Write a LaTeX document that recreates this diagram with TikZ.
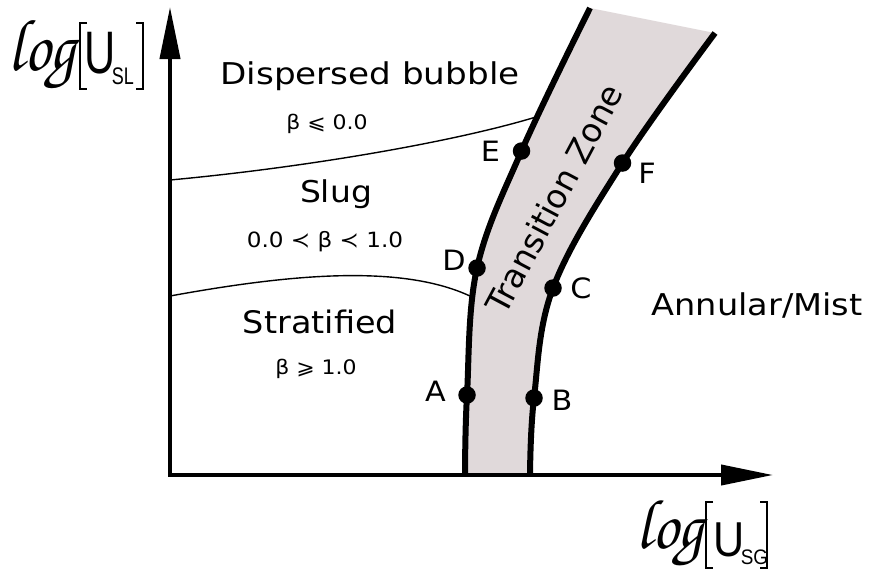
\documentclass[tikz,border=0pt]{standalone}
\usepackage{fontspec}
\makeatletter
\input{t1enc.def}
\makeatother
\newfontfamily\dv{DejaVu Sans}
\newfontfamily\ar{Liberation Sans}
\usetikzlibrary{arrows.meta}
\definecolor{zonefill}{RGB}{224,217,218}
\newcommand{\chanc}{\fontencoding{T1}\fontfamily{pzc}\fontseries{mb}\fontshape{it}\selectfont}
\begin{document}
\begin{tikzpicture}[x=1pt,y=-1pt,
  dot/.style={circle,fill=black,inner sep=0pt,minimum size=17.5pt},
  ptlbl/.style={inner sep=0pt,font=\dv\fontsize{28}{28}\selectfont},
  txtbig/.style={inner sep=0pt,anchor=base,font=\dv\fontsize{30}{30}\selectfont},
  txtsmall/.style={inner sep=0pt,anchor=base,font=\dv\fontsize{20}{20}\selectfont},
  zoneline/.style={line width=6pt},
  bnd/.style={line width=1.4pt},
  brk/.style={line width=1.3pt},
  loglbl/.style={inner sep=0pt,font=\chanc\fontsize{64}{64}\selectfont},
  axis/.style={line width=4pt,line join=miter,{Triangle[length=52pt,width=20pt]}-{Triangle[length=52pt,width=20pt]}}
]
\useasboundingbox (0,0) rectangle (869,574);
% coordinates
\coordinate (orig) at (170,475);
\coordinate (ytip) at (170,7);
\coordinate (xtip) at (773,475);
\coordinate (L0) at (465,476);
\coordinate (cA) at (467,395);
\coordinate (cD) at (477,268);
\coordinate (cE) at (521.5,151);
\coordinate (Ltop) at (590,8);
\coordinate (R0) at (530,476);
\coordinate (cB) at (534,398);
\coordinate (cC) at (553,288);
\coordinate (cF) at (622.5,163);
\coordinate (Rtop) at (715,33);
\coordinate (b1s) at (170,180);
\coordinate (b1e) at (536,117);
\coordinate (b2s) at (170,296);
\coordinate (b2e) at (472,297);
% transition zone
\fill[zonefill] plot[smooth,tension=0.6] coordinates {(L0) (cA) (cD) (cE) (Ltop)}
  -- plot[smooth,tension=0.6] coordinates {(Rtop) (cF) (cC) (cB) (R0)} -- cycle;
\draw[zoneline] plot[smooth,tension=0.6] coordinates {(L0) (cA) (cD) (cE) (Ltop)};
\draw[zoneline] plot[smooth,tension=0.6] coordinates {(R0) (cB) (cC) (cF) (Rtop)};
% boundaries
\draw[bnd] (b1s) .. controls (300,168) and (450,143) .. (b1e);
\draw[bnd] (b2s) .. controls (280,276) and (400,262) .. (b2e);
% axes
\draw[axis] (ytip) -- (orig) -- (xtip);
% dots
\node[dot] (pA) at (cA) {};
\node[dot] (pB) at (cB) {};
\node[dot] (pC) at (cC) {};
\node[dot] (pD) at (cD) {};
\node[dot] (pE) at (cE) {};
\node[dot] (pF) at (cF) {};
\node[ptlbl] (lA) at (435.5,391.5) {\scalebox{1.08}[1]{A}};
\node[ptlbl] (lB) at (562,400) {\scalebox{1.08}[1]{B}};
\node[ptlbl] (lC) at (581,288) {\scalebox{1.08}[1]{C}};
\node[ptlbl] (lD) at (454,260) {\scalebox{1.08}[1]{D}};
\node[ptlbl] (lE) at (490.5,151.7) {\scalebox{1.08}[1]{E}};
\node[ptlbl] (lF) at (647,173) {\scalebox{1.08}[1]{F}};
% region texts
\node[txtbig] (tdisp) at (370,84) {\scalebox{1.14}[1]{Dispersed bubble}};
\node[txtsmall] (tb1) at (327,129) {\scalebox{1.1}[1]{β ⩽ 0.0}};
\node[txtbig] (tslug) at (336,202) {\scalebox{1.1}[1]{Slug}};
\node[txtsmall,font=\dv\fontsize{21}{21}\selectfont] (tb2) at (325,247) {\scalebox{1.1}[1]{0.0 ≺ β ≺ 1.0}};
\node[txtbig,font=\dv\fontsize{31}{31}\selectfont] (tstrat) at (320,333) {\scalebox{1.08}[1]{Stratified}};
\node[txtsmall] (tb3) at (316,374) {\scalebox{1.1}[1]{β ⩾ 1.0}};
\node[txtbig] (tann) at (757,315) {\scalebox{1.12}[1]{Annular/Mist}};
\node[inner sep=0pt,font=\dv\fontsize{33}{33}\selectfont,rotate=62] (tzone) at (554,199) {Transition Zone};
% y axis label
\node[loglbl] (ylog) at (42,56) {\scalebox{1}[1.15]{log}};
\draw[brk] (87,23) -- (80,23) -- (80,89) -- (87,89);
\draw[brk] (136,23) -- (143,23) -- (143,89) -- (136,89);
\node[inner sep=0pt,font=\ar\fontsize{60}{60}\selectfont] (yU) at (100.5,53.5) {\scalebox{0.72}[1]{U}};
\node[inner sep=0pt,font=\ar\fontsize{24}{24}\selectfont] (ySL) at (123,76.5) {\scalebox{0.75}[1]{SL}};
% x axis label
\node[loglbl] (xlog) at (670,534) {\scalebox{1}[1.1]{log}};
\draw[brk] (713,502) -- (706,502) -- (706,568) -- (713,568);
\draw[brk] (760,502) -- (767,502) -- (767,568) -- (760,568);
\node[inner sep=0pt,font=\ar\fontsize{49}{49}\selectfont] (xU) at (729.5,539.5) {\scalebox{0.88}[1]{U}};
\node[inner sep=0pt,font=\ar\fontsize{21}{21}\selectfont] (xSG) at (754.5,557.5) {\scalebox{0.9}[1]{SG}};
\end{tikzpicture}
\end{document}
